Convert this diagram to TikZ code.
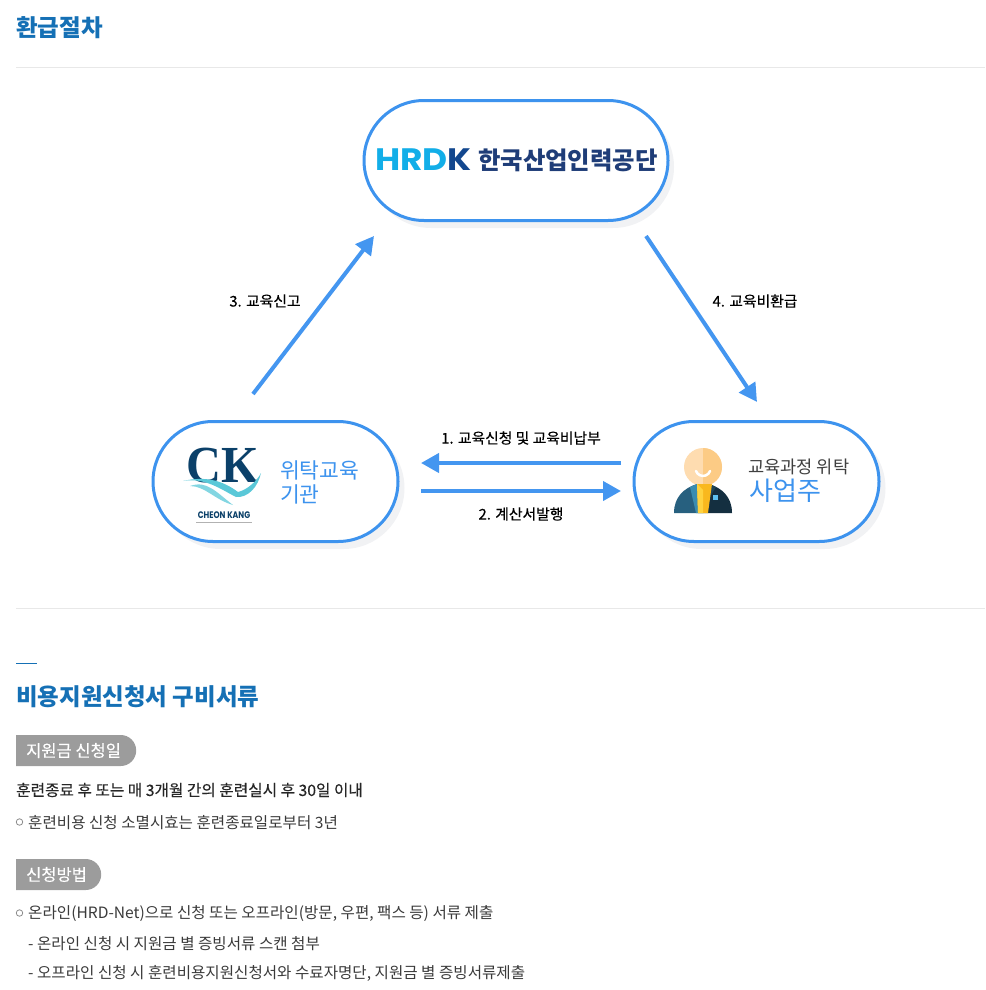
\documentclass[tikz,border=0pt]{standalone}
\usepackage{fontspec}
\usetikzlibrary{arrows.meta,shapes.misc,positioning}
\setmainfont{Noto Sans CJK KR}
\newfontfamily\medfont[FakeBold=0.3]{Noto Sans CJK KR}
\newfontfamily\logofont{Poppins}
\newfontfamily\ckfont{Liberation Serif}
\definecolor{pillblue}{HTML}{3D93EE}
\definecolor{headblue}{HTML}{1570B5}
\definecolor{arrowblue}{HTML}{4496F0}
\definecolor{tagshade}{HTML}{9C9C9C}
\definecolor{bodytext}{HTML}{3A3A3A}
\definecolor{shadegray}{HTML}{F1F2F4}
\definecolor{cknavy}{HTML}{0B4069}
\definecolor{wavecyan}{HTML}{5AC8D8}
\definecolor{faceleft}{HTML}{FEDCB0}
\definecolor{faceright}{HTML}{FCCB85}
\definecolor{coatleft}{HTML}{27607F}
\definecolor{coatright}{HTML}{142F40}
\definecolor{lapelleft}{HTML}{3A8CB0}
\definecolor{lapelright}{HTML}{1F4558}
\definecolor{tieshade}{HTML}{F9B81E}
\definecolor{tielight}{HTML}{FFD23F}
\definecolor{pocketblue}{HTML}{5CC0F0}
\newcommand{\px}[1]{\fontsize{#1}{#1}\selectfont}
\tikzset{
    pill/.style={rounded rectangle, draw=pillblue, line width=3pt, fill=white, minimum width=#1, minimum height=120pt, inner sep=0pt},
    pillshade/.style={rounded rectangle, fill=shadegray, minimum width=#1, minimum height=122pt, inner sep=0pt},
    flow/.style={draw=arrowblue, line width=4pt, -{Triangle[length=18pt,width=19pt]}},
    flowtext/.style={inner sep=0pt, text=black, font=\medfont\px{14.8}},
    heading/.style={inner sep=0pt, anchor=west, text=headblue, font=\bfseries\px{23.5}},
    tagpill/.style={rounded rectangle, rounded rectangle left arc=none, fill=tagshade, minimum height=31pt, minimum width=#1, inner sep=0pt, anchor=west},
    tagtext/.style={inner sep=0pt, anchor=west, text=white, font=\medfont\px{16.5}},
    bodyline/.style={inner sep=0pt, anchor=west, text=bodytext, font=\px{15.6}},
    ruler/.style={draw=black!9, line width=0.8pt},
    bullet/.style={circle, draw=black!45, line width=0.8pt, minimum size=6.5pt, inner sep=0pt}
}
\begin{document}
\begin{tikzpicture}[x=1pt,y=-1pt]
    \useasboundingbox (0,0) rectangle (985,990);

    \node[heading] (title) at (16,28) {환급절차};
    \coordinate (topruleL) at (16,67);
    \coordinate (topruleR) at (985,67);
    \draw[ruler] (topruleL) -- (topruleR);
    \coordinate (midruleL) at (16,608);
    \coordinate (midruleR) at (985,608);
    \draw[ruler] (midruleL) -- (midruleR);

    \node[pillshade=304pt] (hrdkshade) at (522,167) {};
    \node[pillshade=245pt] (trainershade) at (282,488) {};
    \node[pillshade=245pt] (ownershade) at (763,488) {};
    \node[pill=304pt] (hrdk) at (516,160.5) {};
    \node[pill=245pt] (trainer) at (275.5,481.5) {};
    \node[pill=245pt] (owner) at (756.5,481.5) {};

    \node[inner sep=0pt, anchor=west, font=\logofont\bfseries\px{31}, xscale=1.11] (hrdklogo) at (375,160) {\textcolor[HTML]{12AEE8}{HRD}\textcolor[HTML]{12478E}{K}};
    \node[inner sep=0pt, anchor=west, text={rgb,255:red,31;green,61;blue,120}, font=\bfseries\px{24.4}] (hrdkname) at (478,160) {한국산업인력공단};

    \node[inner sep=0pt, text=cknavy, font=\ckfont\bfseries\px{52}, xscale=0.93] (cklogo) at (223,466) {CK};
    \fill[white] (183,489) .. controls (205,478) and (222,484) .. (240,495) .. controls (250,492) and (258,482) .. (262,472) -- (262,500) -- (183,500) -- cycle;
    \fill[wavecyan] (183,481) .. controls (205,476) and (222,480) .. (238,492) .. controls (247,490) and (257,481) .. (261,473) .. controls (258,487) and (248,498) .. (236,497) .. controls (222,490) and (205,477) .. (183,481) -- cycle;
    \fill[wavecyan!75] (190,486) .. controls (207,480) and (216,492) .. (233,505) .. controls (215,500) and (205,486) .. (190,486) -- cycle;
    \node[inner sep=0pt, text=cknavy, font=\logofont\bfseries\px{9.5}, xscale=0.82] (cktext) at (224,515) {CHEON KANG};
    \fill[black!30] (196,522) rectangle (252,523);
    \node[inner sep=0pt, anchor=west, text=pillblue, font=\px{21.5}] (trainera) at (280,470) {위탁교육};
    \node[inner sep=0pt, anchor=west, text=pillblue, font=\px{21.5}] (trainerb) at (280,494) {기관};

    \fill[faceleft] (703,467) circle (19pt);
    \fill[faceright] (703,448) arc (90:-90:19pt) -- cycle;
    \draw[white, line width=2.5pt, line cap=round] (696,471) arc (200:340:7.5pt);
    \fill[coatleft] (674,513) .. controls (674,497) and (684,488) .. (697,484) -- (703,513) -- cycle;
    \fill[coatright] (732,513) .. controls (732,497) and (722,488) .. (709,484) -- (703,513) -- cycle;
    \fill[lapelleft] (690,487) -- (697,484) -- (703,513) -- (696,513) -- cycle;
    \fill[lapelright] (716,487) -- (709,484) -- (708,500) -- cycle;
    \fill[tieshade] (697,484) -- (712,484) -- (708,513) -- (698,513) -- cycle;
    \fill[tielight] (697,484) -- (703,490) -- (703,513) -- (698,513) -- cycle;
    \fill[pocketblue] (713,495) rectangle (718,500);
    \node[inner sep=0pt, anchor=west, text=black!75, font=\px{17.6}] (ownera) at (748,467) {교육과정 위탁};
    \node[inner sep=0pt, anchor=west, text=pillblue, font=\px{26}] (ownerb) at (749,491) {사업주};

    \coordinate (reportS) at (253,394);
    \coordinate (reportE) at (374,236);
    \coordinate (refundS) at (646,236);
    \coordinate (refundE) at (757,402);
    \coordinate (applyS) at (621,463);
    \coordinate (applyE) at (421,463);
    \coordinate (billS) at (421,491);
    \coordinate (billE) at (621,491);
    \draw[flow] (reportS) -- (reportE);
    \draw[flow] (refundS) -- (refundE);
    \draw[flow] (applyS) -- (applyE);
    \draw[flow] (billS) -- (billE);

    \node[flowtext] (reportlabel) at (265,301) {3. 교육신고};
    \node[flowtext] (refundlabel) at (755,301) {4. 교육비환급};
    \node[flowtext] (applylabel) at (521,438) {1. 교육신청 및 교육비납부};
    \node[flowtext] (billlabel) at (521,514) {2. 계산서발행};

    \coordinate (dashL) at (16,663);
    \coordinate (dashR) at (37,663);
    \draw[headblue, line width=0.8pt] (dashL) -- (dashR);
    \node[heading] (docstitle) at (16,697) {비용지원신청서 구비서류};

    \node[tagpill=120pt] (datepill) at (16,750.5) {};
    \node[tagtext, right=10pt of datepill.west] (datetag) {지원금 신청일};
    \node[inner sep=0pt, anchor=west, text=black!85, font=\medfont\px{15.7}] (dateline) at (16,790) {훈련종료 후 또는 매 3개월 간의 훈련실시 후 30일 이내};
    \node[bullet] (bulleta) at (19.5,822) {};
    \node[bodyline] (expireline) at (28,823) {훈련비용 신청 소멸시효는 훈련종료일로부터 3년};

    \node[tagpill=85pt] (methodpill) at (16,874.5) {};
    \node[tagtext, right=10pt of methodpill.west] (methodtag) {신청방법};
    \node[bullet] (bulletb) at (19.5,913) {};
    \node[bodyline] (methodline) at (28,914) {온라인(HRD-Net)으로 신청 또는 오프라인(방문, 우편, 팩스 등) 서류 제출};
    \node[bodyline] (onlineline) at (28,944) {- 온라인 신청 시 지원금 별 증빙서류 스캔 첨부};
    \node[bodyline] (offlineline) at (28,973) {- 오프라인 신청 시 훈련비용지원신청서와 수료자명단, 지원금 별 증빙서류제출};
\end{tikzpicture}
\end{document}
